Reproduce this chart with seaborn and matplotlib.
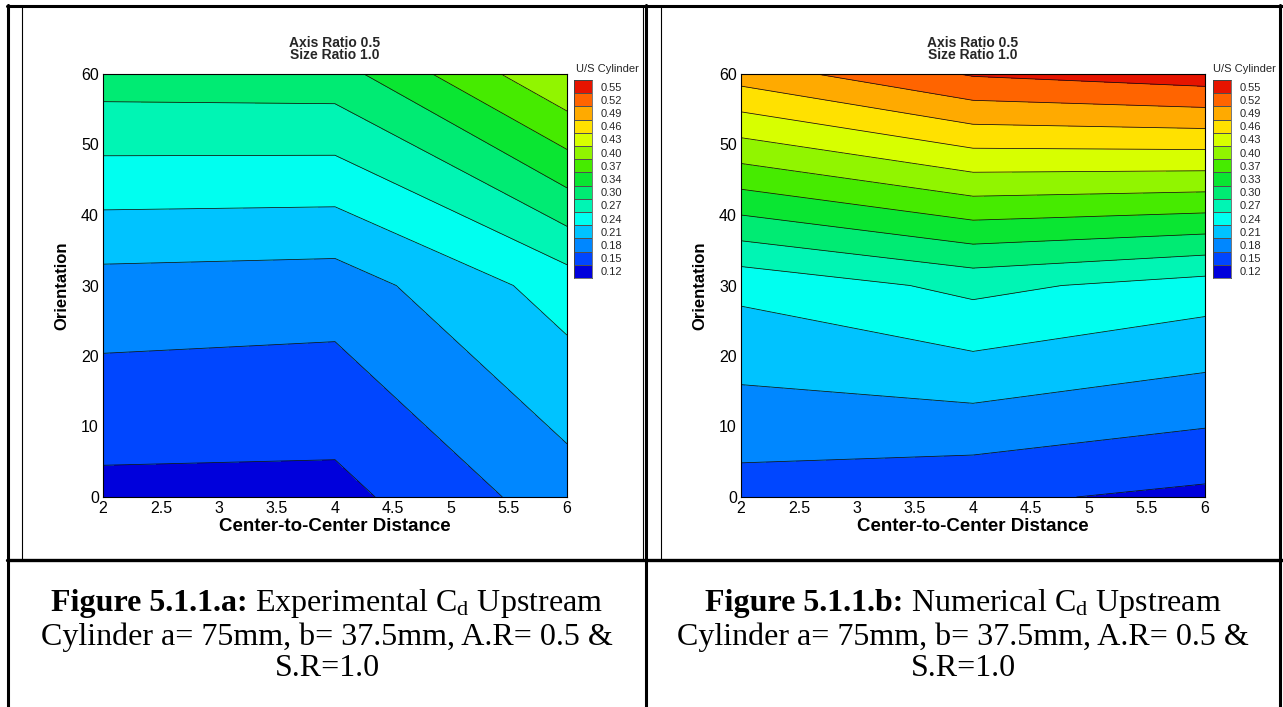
import numpy as np
import matplotlib
matplotlib.use("Agg")
import matplotlib.pyplot as plt
import seaborn as sns
from matplotlib.colors import ListedColormap
from matplotlib.lines import Line2D
from matplotlib.ticker import MultipleLocator

# grid of the measurements
distance = [2, 4, 6]
orientation = [0, 30, 60]

# Cd of the upstream cylinder, rows = orientation, cols = distance
cd_experimental = [
    [0.142, 0.141, 0.197],
    [0.200, 0.196, 0.257],
    [0.320, 0.322, 0.426],
]
cd_numerical = [
    [0.168, 0.1565, 0.1435],
    [0.251, 0.282, 0.260],
    [0.503, 0.553, 0.568],
]

contour_levels = [0.12, 0.1507, 0.1814, 0.2121, 0.2429, 0.2736, 0.3043, 0.335,
                  0.3657, 0.3964, 0.4271, 0.4579, 0.4886, 0.5193, 0.55]
legend_labels_a = ["0.12", "0.15", "0.18", "0.21", "0.24", "0.27", "0.30", "0.34",
                   "0.37", "0.40", "0.43", "0.46", "0.49", "0.52", "0.55"]
legend_labels_b = ["0.12", "0.15", "0.18", "0.21", "0.24", "0.27", "0.30", "0.33",
                   "0.37", "0.40", "0.43", "0.46", "0.49", "0.52", "0.55"]
x_ticks = [2, 2.5, 3, 3.5, 4, 4.5, 5, 5.5, 6]
x_tick_labels = ["2", "2.5", "3", "3.5", "4", "4.5", "5", "5.5", "6"]
y_ticks = [0, 10, 20, 30, 40, 50, 60]

swatch_colors = ["#0000dc", "#0046ff", "#0087ff", "#00c3ff", "#00fff0", "#00f5b4",
                 "#00eb73", "#0ae632", "#46eb00", "#91f500", "#d7ff00", "#ffe100",
                 "#ffaa00", "#ff6400", "#e61400"]

caption_heads = ["Figure 5.1.1.a: ", "Figure 5.1.1.b: "]
caption_tails = [r"Experimental C$_\mathrm{d}$ Upstream", r"Numerical C$_\mathrm{d}$ Upstream"]
caption_lines = ["Cylinder a= 75mm, b= 37.5mm, A.R= 0.5 &", "S.R=1.0"]

sns.set_theme(style="white")
plt.rcParams["font.family"] = ["Liberation Sans", "DejaVu Sans"]
plt.rcParams["mathtext.fontset"] = "custom"
plt.rcParams["mathtext.rm"] = "Liberation Serif"
plt.rcParams["mathtext.it"] = "Liberation Serif:italic"
plt.rcParams["mathtext.bf"] = "Liberation Serif:bold"

W, H = 1283, 707
fig = plt.figure(figsize=(W / 100, H / 100), dpi=100)
fig.patch.set_facecolor("white")
renderer = fig.canvas.get_renderer()


def rect(x0, y0, x1, y1):
    # pixel box (top-left origin) -> figure fraction
    return [x0 / W, 1 - y1 / H, (x1 - x0) / W, (y1 - y0) / H]


def hline(y, x0, x1, lw):
    fig.add_artist(Line2D([x0 / W, x1 / W], [1 - y / H, 1 - y / H], color="black",
                          lw=lw, transform=fig.transFigure))


def vline(x, y0, y1, lw):
    fig.add_artist(Line2D([x / W, x / W], [1 - y0 / H, 1 - y1 / H], color="black",
                          lw=lw, transform=fig.transFigure))


band_cmap = ListedColormap(swatch_colors[:14])
band_cmap.set_under(swatch_colors[0])
band_cmap.set_over(swatch_colors[14])

cap_font = dict(fontsize=23, family="Liberation Serif", color="black", va="center")


def draw_caption(head, tail, cap_x):
    t1 = fig.text(0, 1 - 604 / H, head, fontweight="bold", **cap_font)
    t2 = fig.text(0, 1 - 604 / H, tail, **cap_font)
    w1 = t1.get_window_extent(renderer).width
    w2 = t2.get_window_extent(renderer).width
    start = cap_x - (w1 + w2) / 2
    t1.set_x(start / W)
    t2.set_x((start + w1) / W)
    for text, y in zip(caption_lines, [637, 668]):
        fig.text(cap_x / W, 1 - y / H, text, ha="center", **cap_font)


def draw_panel(z, labels, ax_box, leg_box, leg_title_x):
    ax = fig.add_axes(rect(*ax_box))
    ax.contourf(distance, orientation, z, levels=contour_levels, cmap=band_cmap, extend="both")
    ax.contour(distance, orientation, z, levels=contour_levels, colors="#101010", linewidths=0.55)
    ax.set_xlim(2, 6)
    ax.set_ylim(0, 60)
    ax.set_xticks(x_ticks)
    ax.set_xticklabels(x_tick_labels)
    ax.set_yticks(y_ticks)
    ax.xaxis.set_minor_locator(MultipleLocator(0.1))
    ax.yaxis.set_minor_locator(MultipleLocator(2))
    ax.tick_params(which="both", direction="in", top=False, right=False, color="black",
                   width=0.8, labelsize=11.5, labelcolor="black")
    ax.tick_params(which="major", length=8, pad=3)
    ax.tick_params(which="minor", length=4)
    for s in ax.spines.values():
        s.set_color("black")
        s.set_linewidth(0.8)
    ax.set_xlabel("Center-to-Center Distance", fontsize=13.5, fontweight="bold", labelpad=1, color="black")
    ax.set_ylabel("Orientation", fontsize=12, fontweight="bold", labelpad=8, color="black")
    cx = (ax_box[0] + ax_box[2]) / 2
    fig.text(cx / W, 1 - 49 / H, "Axis Ratio 0.5\nSize Ratio 1.0", ha="center", va="center",
             fontsize=10, fontweight="bold", linespacing=0.9)

    # legend swatches drawn as a one-column heatmap
    lax = fig.add_axes(rect(*leg_box))
    grid = np.arange(len(swatch_colors))[::-1].reshape(-1, 1)
    sns.heatmap(grid, ax=lax, cmap=ListedColormap(swatch_colors), vmin=-0.5,
                vmax=len(swatch_colors) - 0.5, cbar=False, linewidths=0.4,
                linecolor="#505050", xticklabels=False, yticklabels=labels[::-1])
    lax.yaxis.tick_right()
    lax.tick_params(axis="y", length=0, labelsize=8, pad=6, labelrotation=0)
    for s in lax.spines.values():
        s.set_visible(True)
        s.set_color("#404040")
        s.set_linewidth(0.5)
    fig.text(leg_title_x / W, 1 - 69 / H, "U/S Cylinder", ha="center", va="center", fontsize=8)
    return ax


draw_panel(cd_experimental, legend_labels_a, (103, 74, 567, 497), (574, 80, 592, 278), 607)
draw_panel(cd_numerical, legend_labels_b, (741, 74, 1205, 497), (1213, 80, 1231, 278), 1244)
draw_caption(caption_heads[0], caption_tails[0], 327)
draw_caption(caption_heads[1], caption_tails[1], 963)

# table borders
hline(6, 7, W, 2.2)
hline(560, 7, W, 2.4)
vline(8, 5, H, 2.2)
vline(646, 5, H, 2.2)
vline(1280, 5, H, 2.2)
vline(22, 6, 560, 0.8)
vline(643, 6, 560, 0.8)
vline(661, 6, 560, 0.8)

fig.savefig("out.png", dpi=100)
